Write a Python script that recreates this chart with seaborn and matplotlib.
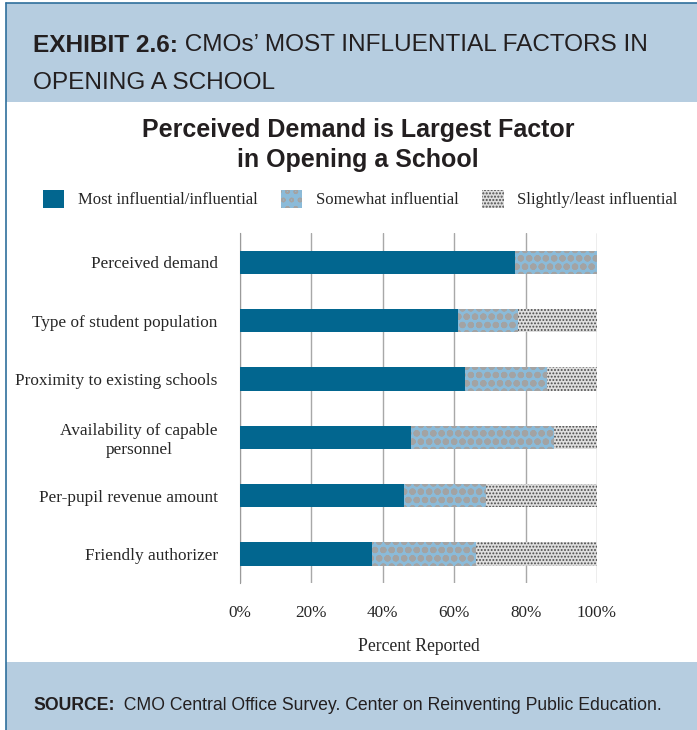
import matplotlib
matplotlib.use("Agg")
import matplotlib.pyplot as plt
import numpy as np
import pandas as pd
import seaborn as sns
from matplotlib.patches import Rectangle, Patch
from matplotlib.lines import Line2D

factors = [
    "Perceived demand",
    "Type of student population",
    "Proximity to existing schools",
    "Availability of capable\npersonnel",
    "Per-pupil revenue amount",
    "Friendly authorizer",
]
most_influential = [77, 61, 63, 48, 46, 37]
somewhat_influential = [23, 17, 23, 40, 23, 29]
slightly_influential = [0, 22, 14, 12, 31, 34]

series_names = ["Most influential/influential", "Somewhat influential", "Slightly/least influential"]
xticks = [0, 20, 40, 60, 80, 100]
xtick_labels = ["0%", "20%", "40%", "60%", "80%", "100%"]

DARK = "#02668f"
LIGHT = "#8bbbd9"
DOTS_BG = "#dedede"
BAND = "#b6cde0"
BORDER = "#2f6f9c"
SERIF = ["Liberation Serif", "DejaVu Serif"]
SANS = ["Liberation Sans", "DejaVu Sans"]

sns.set_style("white")
plt.rcParams["font.family"] = SANS

df = pd.DataFrame({
    "factor": factors,
    "most": most_influential,
    "somewhat": somewhat_influential,
    "slightly": slightly_influential,
})
df["cum2"] = df["most"] + df["somewhat"]
df["cum3"] = df["cum2"] + df["slightly"]

fig = plt.figure(figsize=(6.97, 7.30), dpi=100)
ax = fig.add_axes([240 / 697, 1 - 583 / 730, 357 / 697, 350 / 730])


def styled_bars(col, face, hatch, hatch_color, hatch_lw):
    n_before = len(ax.patches)
    sns.barplot(data=df, x=col, y="factor", orient="h", color=face, saturation=1,
                width=0.4, errorbar=None, ax=ax, zorder=3)
    for p in ax.patches[n_before:]:
        p.set_hatch(hatch)
        p.set_edgecolor(hatch_color)
        p.set_linewidth(0)
        if hasattr(p, "set_hatch_linewidth"):
            p.set_hatch_linewidth(hatch_lw)


# stacked by drawing cumulative totals back to front
styled_bars("cum3", DOTS_BG, ".....", "#4a4a4a", 0.9)
styled_bars("cum2", LIGHT, "oo", "#a3a3a3", 2.2)
styled_bars("most", DARK, None, DARK, 0)

ax.set_xlim(0, 100)
ax.set_ylim(len(factors) - 0.5, -0.5)
ax.set_xticks(xticks)
ax.set_xticklabels(xtick_labels, fontfamily=SERIF, fontsize=12.3)
ax.set_yticks(range(len(factors)))
ax.set_yticklabels(factors, fontfamily=SERIF, fontsize=12.4, ha="right", multialignment="center")
ax.set_yticks(np.arange(-0.5, len(factors)), minor=True)
ax.tick_params(axis="y", which="major", length=0, pad=16)
ax.tick_params(axis="y", which="minor", length=4, color="#9a9a9a", width=1)
ax.tick_params(axis="x", length=4, color="#9a9a9a", pad=12)
ax.xaxis.grid(True, color="#a8a8a8", linewidth=1, zorder=0)
ax.set_axisbelow(True)
for s in ["top", "right", "bottom"]:
    ax.spines[s].set_visible(False)
ax.spines["left"].set_color("#9a9a9a")
ax.set_ylabel("")
ax.set_xlabel("Percent Reported", fontfamily=SERIF, fontsize=12.7, labelpad=12)

# header and footer bands
fig.patches.append(Rectangle((6 / 697, 1 - 102 / 730), 1, 99 / 730, transform=fig.transFigure,
                             facecolor=BAND, edgecolor="none", zorder=0))
fig.patches.append(Rectangle((6 / 697, 0), 1, 68 / 730, transform=fig.transFigure,
                             facecolor=BAND, edgecolor="none", zorder=0))
fig.lines.append(Line2D([6 / 697, 6 / 697], [0, 1 - 3 / 730], transform=fig.transFigure,
                        color=BORDER, linewidth=1.2))
fig.lines.append(Line2D([6 / 697, 1], [1 - 3 / 730, 1 - 3 / 730], transform=fig.transFigure,
                        color=BORDER, linewidth=1.2))

renderer = fig.canvas.get_renderer()


def bold_then_regular(x, y, bold, regular, size):
    t = fig.text(x, y, bold, fontweight="bold", fontsize=size, va="center", color="#231f20")
    bb = t.get_window_extent(renderer)
    fig.text(bb.x1 / fig.bbox.width, y, regular, fontsize=size, va="center", color="#231f20")


bold_then_regular(33 / 697, 1 - 45 / 730, "EXHIBIT 2.6:", " CMOs\u2019 MOST INFLUENTIAL FACTORS IN", 17.6)
fig.text(33 / 697, 1 - 83 / 730, "OPENING A SCHOOL", fontsize=17.6, va="center", color="#231f20")
bold_then_regular(33 / 697, 1 - 705 / 730, "SOURCE:", "  CMO Central Office Survey. Center on Reinventing Public Education.", 12.7)

fig.text(358 / 697, 1 - 145 / 730, "Perceived Demand is Largest Factor\nin Opening a School",
         ha="center", va="center", fontsize=18, fontweight="bold", linespacing=1.3, color="#231f20")

handles = [
    Patch(facecolor=DARK, edgecolor=DARK, linewidth=0),
    Patch(facecolor=LIGHT, edgecolor="#a3a3a3", hatch="oo", linewidth=0),
    Patch(facecolor=DOTS_BG, edgecolor="#4a4a4a", hatch=".....", linewidth=0),
]
fig.legend(handles, series_names, loc="center", bbox_to_anchor=(360 / 697, 1 - 199 / 730),
           ncol=3, frameon=False, prop={"family": SERIF, "size": 12},
           handlelength=1.3, handleheight=1.3, columnspacing=1.4, handletextpad=0.8)

fig.savefig("out.png", dpi=100)
